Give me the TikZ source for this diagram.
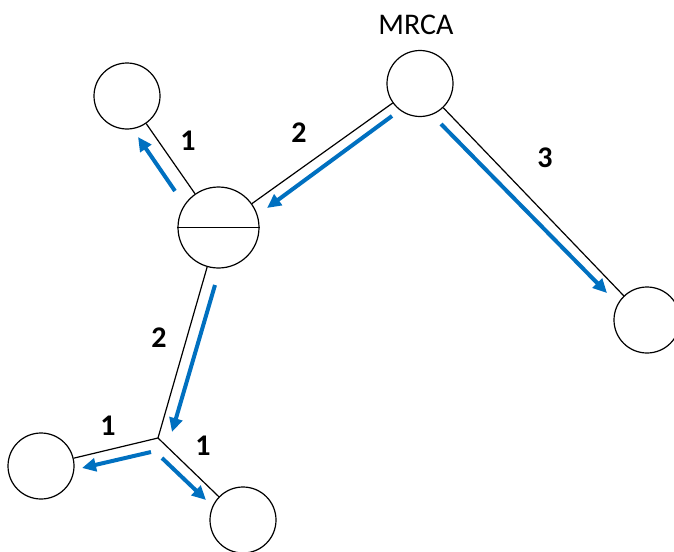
\documentclass[tikz,border=0pt]{standalone}
\usepackage{fontspec}
\setmainfont{Carlito}
\usetikzlibrary{arrows.meta}
\definecolor{flowblue}{RGB}{0,112,192}

\begin{document}
\begin{tikzpicture}[x=1pt,y=-1pt,->,>={Triangle[length=14pt,width=13pt]},auto,thin]
\tikzstyle{every node}=[font=\fontsize{30}{36}\selectfont]
\tikzstyle{leaf}=[shape=circle,draw,line width=1.2pt,minimum size=66pt,inner sep=0pt,fill=white]
\tikzstyle{inner}=[leaf,minimum size=81pt]
\tikzstyle{branch}=[-,line width=1.2pt]
\tikzstyle{flow}=[->,draw=flowblue,line width=4pt]
\tikzstyle{len}=[font=\fontsize{30}{36}\selectfont\bfseries]

\useasboundingbox (0,0) rectangle (674,551);

%\node[leaf] (X) at (300,300) {};
\node[leaf]        (L1)   at (127,96)    {};
\node[leaf]        (MRCA) at (420,83.5)  {};
\node[inner]       (M)    at (218.5,227.5) {};
\node[leaf]        (R)    at (647,320)   {};
\node[leaf]        (BL)   at (41,466)    {};
\node[leaf]        (B)    at (243,520)   {};
\coordinate        (J)    at (158,438);
\node              (lab)  at (416,25)    {MRCA};

\draw[branch] (M.west) -- (M.east);

\path[branch]
(M) edge (L1)
(MRCA) edge (M)
(MRCA) edge (R)
(M) edge (J)
(J) edge (BL)
(J) edge (B)
;

% flow of time along the branches
\coordinate (t1) at (175,191); \coordinate (h1) at (138,137);
\coordinate (t2) at (392,116); \coordinate (h2) at (267,208);
\coordinate (t3) at (441,124); \coordinate (h3) at (607,293);
\coordinate (t4) at (215,285); \coordinate (h4) at (172,432);
\coordinate (t5) at (151,452); \coordinate (h5) at (82,468);
\coordinate (t6) at (162,458); \coordinate (h6) at (206,500);

\path
(t1) edge[flow] (h1)
(t2) edge[flow] (h2)
(t3) edge[flow] (h3)
(t4) edge[flow] (h4)
(t5) edge[flow] (h5)
(t6) edge[flow] (h6)
;

\node[len] (n1) at (188,141) {1};
\node[len] (n2) at (299,133) {2};
\node[len] (n3) at (545,158) {3};
\node[len] (n4) at (159,338) {2};
\node[len] (n5) at (108,426) {1};
\node[len] (n6) at (203,446) {1};

    \end{tikzpicture}
\end{document}
